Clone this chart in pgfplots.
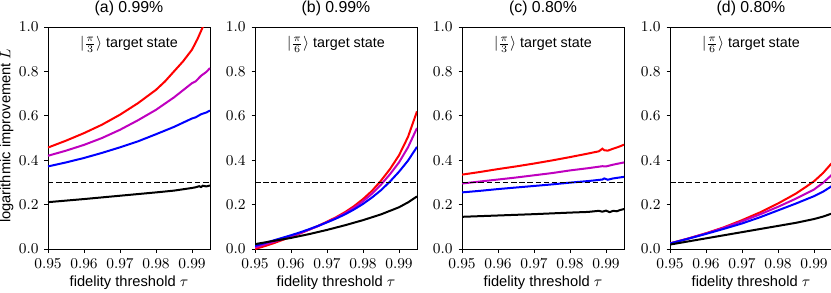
\documentclass[border=0pt]{standalone}
\usepackage[no-math]{fontspec}
\setmainfont{Liberation Sans}
\usepackage{pgfplots}
\pgfplotsset{compat=1.18}
\definecolor{mred}{RGB}{255,0,0}
\definecolor{mmag}{RGB}{191,0,191}
\definecolor{mblue}{RGB}{0,0,255}
\pgfplotsset{
 panel/.style={
  scale only axis, width=97.2pt, height=133.2pt,
  xmin=0.95, xmax=0.995, ymin=0, ymax=1,
  xtick={0.95,0.96,0.97,0.98,0.99}, ytick={0,0.2,0.4,0.6,0.8,1.0},
  xticklabel={$\pgfmathprintnumber[fixed,fixed zerofill,precision=2]{\tick}$},
  yticklabel={$\pgfmathprintnumber[fixed,fixed zerofill,precision=1]{\tick}$},
  tick label style={font=\fontsize{9.5}{11}\selectfont},
  tick align=outside, xtick pos=bottom, ytick pos=left, major tick length=2.1pt,
  tick style={black, line width=0.5pt},
  axis line style={line width=0.5pt},
  xlabel={fidelity threshold $\tau$},
  label style={font=\fontsize{8.8}{11}\selectfont},
  title style={font=\fontsize{9.5}{11}\selectfont, yshift=-3pt},
  xlabel style={yshift=2pt},
  ylabel style={at={(axis description cs:-0.255,0.51)}, anchor=center},
  every axis plot/.append style={line width=1.2pt, no marks},
  clip=true,
 },
 dash/.style={black, line width=0.8pt, dash pattern=on 3.3pt off 1.6pt},
}
\newcommand{\tgt}[1]{\node[font=\fontsize{8.6}{10}\selectfont] at (axis cs:0.9725,0.92) {$|\frac{\pi}{#1}\rangle$ target state};}
\begin{document}
\begin{tikzpicture}
% (a)
\begin{axis}[panel, at={(0pt,0pt)}, anchor=south west, title={(a) 0.99\%}, ylabel={logarithmic improvement $L$}]
\addplot[mred] coordinates {(0.95,0.457)(0.955,0.488)(0.96,0.522)(0.965,0.56)(0.97,0.605)(0.975,0.657)(0.98,0.717)(0.9825,0.755)(0.985,0.80)(0.9875,0.845)(0.99,0.898)(0.9915,0.945)(0.993,1.0)(0.995,1.07)};
\addplot[mmag] coordinates {(0.95,0.42)(0.955,0.443)(0.96,0.469)(0.965,0.50)(0.97,0.537)(0.975,0.58)(0.98,0.627)(0.985,0.683)(0.99,0.747)(0.991,0.755)(0.9925,0.78)(0.994,0.798)(0.995,0.815)};
\addplot[mblue] coordinates {(0.95,0.372)(0.955,0.39)(0.96,0.41)(0.965,0.433)(0.97,0.458)(0.975,0.485)(0.98,0.517)(0.985,0.55)(0.99,0.588)(0.991,0.593)(0.9925,0.607)(0.994,0.615)(0.995,0.624)};
\addplot[black] coordinates {(0.95,0.211)(0.96,0.225)(0.97,0.24)(0.98,0.255)(0.985,0.263)(0.99,0.275)(0.991,0.278)(0.992,0.283)(0.9925,0.279)(0.993,0.285)(0.994,0.282)(0.995,0.286)};
\addplot[dash] coordinates {(0.95,0.3)(0.995,0.3)};
\tgt{3}
\end{axis}
% (b)
\begin{axis}[panel, at={(124.2pt,0pt)}, anchor=south west, title={(b) 0.99\%}]
\addplot[mred] coordinates {(0.95,0.0)(0.9525,0.012)(0.955,0.025)(0.9575,0.04)(0.96,0.055)(0.9625,0.07)(0.965,0.087)(0.9675,0.104)(0.97,0.123)(0.9725,0.143)(0.975,0.166)(0.9775,0.193)(0.98,0.225)(0.9825,0.262)(0.985,0.308)(0.9875,0.36)(0.99,0.422)(0.9925,0.505)(0.995,0.62)};
\addplot[mmag] coordinates {(0.95,0.007)(0.9525,0.019)(0.955,0.031)(0.9575,0.044)(0.96,0.057)(0.9625,0.071)(0.965,0.087)(0.9675,0.103)(0.97,0.121)(0.9725,0.14)(0.975,0.161)(0.9775,0.186)(0.98,0.215)(0.9825,0.249)(0.985,0.29)(0.9875,0.337)(0.99,0.39)(0.9925,0.458)(0.995,0.545)};
\addplot[mblue] coordinates {(0.95,0.014)(0.9525,0.026)(0.955,0.038)(0.9575,0.05)(0.96,0.062)(0.9625,0.075)(0.965,0.089)(0.9675,0.104)(0.97,0.12)(0.9725,0.137)(0.975,0.156)(0.9775,0.178)(0.98,0.203)(0.9825,0.232)(0.985,0.265)(0.9875,0.304)(0.99,0.348)(0.9925,0.398)(0.995,0.46)};
\addplot[black] coordinates {(0.95,0.022)(0.955,0.036)(0.96,0.05)(0.965,0.067)(0.97,0.086)(0.975,0.107)(0.98,0.13)(0.985,0.156)(0.99,0.188)(0.9925,0.21)(0.995,0.237)};
\addplot[dash] coordinates {(0.95,0.3)(0.995,0.3)};
\tgt{6}
\end{axis}
% (c)
\begin{axis}[panel, at={(248.4pt,0pt)}, anchor=south west, title={(c) 0.80\%}]
\addplot[mred] coordinates {(0.95,0.335)(0.955,0.347)(0.96,0.36)(0.965,0.372)(0.97,0.385)(0.975,0.399)(0.98,0.414)(0.985,0.43)(0.988,0.44)(0.989,0.452)(0.9895,0.445)(0.9905,0.443)(0.992,0.452)(0.9935,0.46)(0.995,0.47)};
\addplot[mmag] coordinates {(0.95,0.295)(0.955,0.304)(0.96,0.313)(0.965,0.322)(0.97,0.332)(0.975,0.342)(0.98,0.354)(0.985,0.364)(0.989,0.373)(0.99,0.372)(0.992,0.38)(0.995,0.39)};
\addplot[mblue] coordinates {(0.95,0.255)(0.955,0.262)(0.96,0.27)(0.965,0.277)(0.97,0.284)(0.975,0.291)(0.98,0.299)(0.985,0.306)(0.989,0.313)(0.9895,0.318)(0.9905,0.312)(0.992,0.318)(0.995,0.325)};
\addplot[black] coordinates {(0.95,0.145)(0.96,0.151)(0.97,0.157)(0.98,0.164)(0.985,0.167)(0.988,0.172)(0.989,0.168)(0.99,0.173)(0.991,0.166)(0.992,0.172)(0.993,0.17)(0.994,0.176)(0.995,0.18)};
\addplot[dash] coordinates {(0.95,0.3)(0.995,0.3)};
\tgt{3}
\end{axis}
% (d)
\begin{axis}[panel, at={(373.2pt,0pt)}, anchor=south west, title={(d) 0.80\%}]
\addplot[mred] coordinates {(0.95,0.025)(0.955,0.047)(0.96,0.071)(0.965,0.098)(0.97,0.13)(0.975,0.165)(0.98,0.205)(0.985,0.25)(0.9875,0.277)(0.99,0.305)(0.9925,0.342)(0.995,0.388)};
\addplot[mmag] coordinates {(0.95,0.025)(0.955,0.047)(0.96,0.07)(0.965,0.096)(0.97,0.125)(0.975,0.156)(0.98,0.19)(0.985,0.227)(0.99,0.268)(0.9925,0.298)(0.995,0.335)};
\addplot[mblue] coordinates {(0.95,0.025)(0.955,0.046)(0.96,0.068)(0.965,0.091)(0.97,0.115)(0.975,0.143)(0.98,0.174)(0.985,0.205)(0.99,0.238)(0.9925,0.258)(0.995,0.284)};
\addplot[black] coordinates {(0.95,0.02)(0.955,0.034)(0.96,0.048)(0.965,0.062)(0.97,0.076)(0.975,0.09)(0.98,0.104)(0.985,0.118)(0.99,0.135)(0.9925,0.146)(0.995,0.16)};
\addplot[dash] coordinates {(0.95,0.3)(0.995,0.3)};
\tgt{6}
\end{axis}
\pgfresetboundingbox
\path[use as bounding box] (-28.8pt,-25.8pt) rectangle (469.8pt,149.4pt);
\end{tikzpicture}
\end{document}
